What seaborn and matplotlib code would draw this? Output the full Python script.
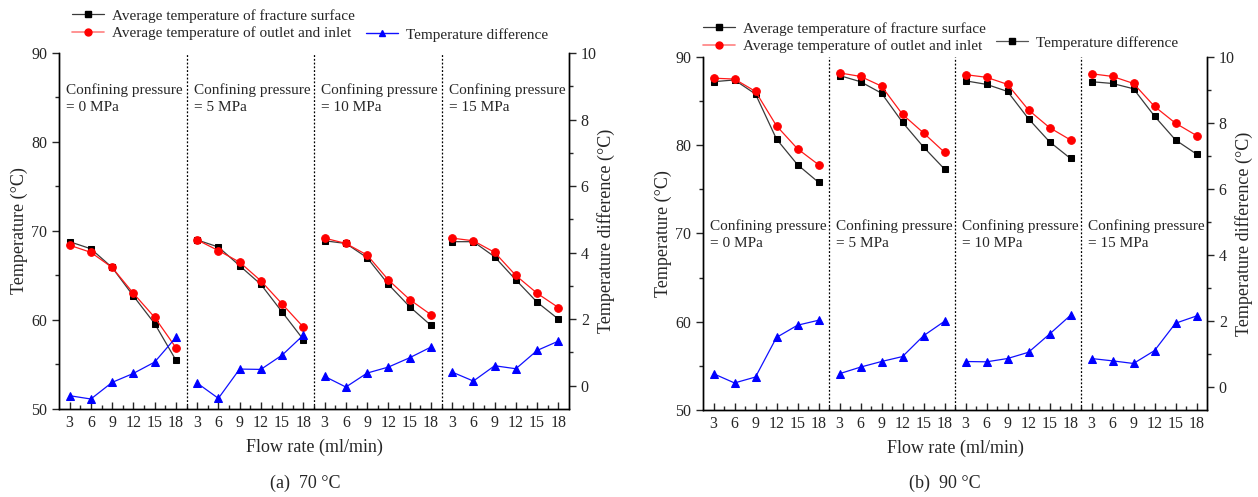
import numpy as np
import pandas as pd
import matplotlib
matplotlib.use("Agg")
import matplotlib.pyplot as plt
import seaborn as sns
from matplotlib.ticker import FixedLocator, MultipleLocator
from matplotlib.lines import Line2D

# ---------------- data ----------------
flow_rates = [3, 6, 9, 12, 15, 18]
pressures = [0, 5, 10, 15]
pressure_labels = ["Confining pressure\n= 0 MPa", "Confining pressure\n= 5 MPa",
                   "Confining pressure\n= 10 MPa", "Confining pressure\n= 15 MPa"]

# (a) 70 °C
a_surface_0 = [68.8, 68.0, 65.9, 62.7, 59.6, 55.5]
a_surface_5 = [69.0, 68.2, 66.1, 64.0, 60.9, 57.8]
a_surface_10 = [68.9, 68.6, 67.0, 64.0, 61.5, 59.4]
a_surface_15 = [68.8, 68.8, 67.1, 64.5, 62.0, 60.1]
a_outlet_0 = [68.4, 67.6, 65.9, 63.0, 60.3, 56.9]
a_outlet_5 = [69.0, 67.8, 66.5, 64.4, 61.8, 59.2]
a_outlet_10 = [69.2, 68.6, 67.3, 64.5, 62.3, 60.6]
a_outlet_15 = [69.2, 68.9, 67.6, 65.0, 63.0, 61.4]
a_diff_0 = [-0.30, -0.40, 0.10, 0.37, 0.71, 1.45]
a_diff_5 = [0.08, -0.38, 0.50, 0.49, 0.92, 1.52]
a_diff_10 = [0.28, -0.04, 0.38, 0.56, 0.84, 1.16]
a_diff_15 = [0.41, 0.14, 0.60, 0.51, 1.06, 1.34]

# (b) 90 °C
b_surface_0 = [87.2, 87.4, 85.8, 80.7, 77.8, 75.8]
b_surface_5 = [87.9, 87.2, 85.9, 82.6, 79.8, 77.3]
b_surface_10 = [87.3, 86.9, 86.1, 83.0, 80.4, 78.5]
b_surface_15 = [87.2, 87.0, 86.4, 83.3, 80.6, 79.0]
b_outlet_0 = [87.6, 87.5, 86.1, 82.2, 79.6, 77.8]
b_outlet_5 = [88.2, 87.8, 86.7, 83.5, 81.4, 79.2]
b_outlet_10 = [88.0, 87.7, 86.9, 84.0, 82.0, 80.6]
b_outlet_15 = [88.1, 87.8, 87.0, 84.4, 82.5, 81.1]
b_diff_0 = [0.40, 0.12, 0.30, 1.50, 1.87, 2.02]
b_diff_5 = [0.40, 0.60, 0.77, 0.92, 1.55, 1.99]
b_diff_10 = [0.77, 0.76, 0.86, 1.05, 1.60, 2.17]
b_diff_15 = [0.86, 0.79, 0.71, 1.10, 1.93, 2.15]


def build_df(surface, outlet, diff):
    rows = []
    for i, p in enumerate(pressures):
        for j, f in enumerate(flow_rates):
            rows.append(dict(pos=i * 6 + j, pressure=p, flow=f,
                             surface=surface[i][j], outlet=outlet[i][j], diff=diff[i][j]))
    return pd.DataFrame(rows)


df_a = build_df([a_surface_0, a_surface_5, a_surface_10, a_surface_15],
                [a_outlet_0, a_outlet_5, a_outlet_10, a_outlet_15],
                [a_diff_0, a_diff_5, a_diff_10, a_diff_15])
df_b = build_df([b_surface_0, b_surface_5, b_surface_10, b_surface_15],
                [b_outlet_0, b_outlet_5, b_outlet_10, b_outlet_15],
                [b_diff_0, b_diff_5, b_diff_10, b_diff_15])

# ---------------- style ----------------
sns.set_style("ticks")
plt.rcParams['font.family'] = ['Liberation Serif', 'DejaVu Serif']
plt.rcParams['axes.linewidth'] = 1.0

BLACK_LINE = "#3a3a3a"
RED = "#ff1a1a"
BLUE = "#1010ff"

fig = plt.figure(figsize=(12.58, 4.97), dpi=100)

panels = [
    dict(df=df_a, rect=[59 / 1258, 88 / 497, 510 / 1258, 356 / 497], text_y=84.9,
         caption="(a)  70 °C", cap_x=305 / 1258),
    dict(df=df_b, rect=[703 / 1258, 87 / 497, 504 / 1258, 353 / 497], text_y=69.9,
         caption="(b)  90 °C", cap_x=945 / 1258),
]

TICK_FS = 11.5
LABEL_FS = 13
TEXT_FS = 11

for k, pnl in enumerate(panels):
    df = pnl["df"]
    ax = fig.add_axes(pnl["rect"])
    ax2 = ax.twinx()

    sns.lineplot(data=df, x="pos", y="surface", units="pressure", estimator=None,
                 ax=ax, color=BLACK_LINE, lw=0.9, marker="s", markersize=5,
                 markerfacecolor="black", markeredgecolor="black", legend=False)
    sns.lineplot(data=df, x="pos", y="outlet", units="pressure", estimator=None,
                 ax=ax, color=RED, lw=0.9, marker="o", markersize=5.5,
                 markerfacecolor="red", markeredgecolor="red", legend=False)
    sns.lineplot(data=df, x="pos", y="diff", units="pressure", estimator=None,
                 ax=ax2, color=BLUE, lw=0.9, marker="^", markersize=6,
                 markerfacecolor="blue", markeredgecolor="blue", legend=False)

    ax.set_xlim(-0.5, 23.5)
    ax.set_ylim(50, 90)
    ax2.set_ylim(-0.7, 10)

    # separators
    for i in range(1, 4):
        ax.axvline(i * 6 - 0.5, color="black", ls=(0, (1.5, 1.5)), lw=0.9)

    # confining pressure text
    for i, lab in enumerate(pressure_labels):
        ax.text(i * 6 - 0.5 + 0.33, pnl["text_y"], lab, fontsize=TEXT_FS,
                ha="left", va="center", linespacing=1.4)

    # x ticks
    ax.set_xticks(df["pos"].tolist())
    ax.set_xticklabels([str(f) for f in df["flow"].tolist()], fontsize=TICK_FS)
    ax.xaxis.set_minor_locator(FixedLocator(np.arange(0.5, 23.0, 1.0)))
    ax.tick_params(axis="x", which="major", direction="in", length=5, width=1.0, pad=4)
    ax.tick_params(axis="x", which="minor", direction="in", length=3, width=1.0)

    # y ticks
    ax.yaxis.set_major_locator(MultipleLocator(10))
    ax.yaxis.set_minor_locator(MultipleLocator(5))
    ax.tick_params(axis="y", which="major", direction="out", length=5, width=1.0,
                   labelsize=TICK_FS)
    ax.tick_params(axis="y", which="minor", direction="out", length=3, width=1.0)
    ax2.yaxis.set_major_locator(MultipleLocator(2))
    ax2.yaxis.set_minor_locator(MultipleLocator(1))
    ax2.tick_params(axis="y", which="major", direction="out", length=5, width=1.0,
                    labelsize=TICK_FS)
    ax2.tick_params(axis="y", which="minor", direction="out", length=3, width=1.0)

    for a in (ax, ax2):
        a.spines["top"].set_visible(False)
        for s in ("left", "right", "bottom"):
            a.spines[s].set_color("black")
            a.spines[s].set_linewidth(1.0)

    ax.set_xlabel("Flow rate (ml/min)", fontsize=LABEL_FS, labelpad=6)
    ax.set_ylabel("Temperature (°C)", fontsize=LABEL_FS, labelpad=2)
    ax2.set_ylabel("Temperature difference (°C)", fontsize=LABEL_FS, labelpad=0)

    fig.text(pnl["cap_x"], 1 - 483 / 497, pnl["caption"], ha="center", va="center",
             fontsize=LABEL_FS)

# ---------------- legends ----------------
h_surf = Line2D([], [], color=BLACK_LINE, lw=0.9, marker="s", markersize=4.5,
                markerfacecolor="black", markeredgecolor="black")
h_out = Line2D([], [], color="#ff8080", lw=1.2, marker="o", markersize=5,
               markerfacecolor="red", markeredgecolor="red")
h_diff_a = Line2D([], [], color=BLUE, lw=1.0, marker="^", markersize=5,
                  markerfacecolor="blue", markeredgecolor="blue")
h_diff_b = Line2D([], [], color="#555555", lw=0.9, marker="s", markersize=4.5,
                  markerfacecolor="black", markeredgecolor="black")

leg_kw = dict(frameon=False, fontsize=TEXT_FS, borderpad=0, borderaxespad=0,
              handlelength=2.1, handletextpad=0.5, labelspacing=0.25, loc="upper left")

fig.legend([h_surf, h_out], ["Average temperature of fracture surface",
                              "Average temperature of outlet and inlet"],
           bbox_to_anchor=(72 / 1258, 1 - 9 / 497), **leg_kw)
fig.legend([h_diff_a], ["Temperature difference"],
           bbox_to_anchor=(366 / 1258, 1 - 28 / 497), **leg_kw)
fig.legend([h_surf, h_out], ["Average temperature of fracture surface",
                              "Average temperature of outlet and inlet"],
           bbox_to_anchor=(703 / 1258, 1 - 22 / 497), **leg_kw)
fig.legend([h_diff_b], ["Temperature difference"],
           bbox_to_anchor=(996 / 1258, 1 - 36 / 497), **leg_kw)

fig.savefig("out.png", dpi=100)
